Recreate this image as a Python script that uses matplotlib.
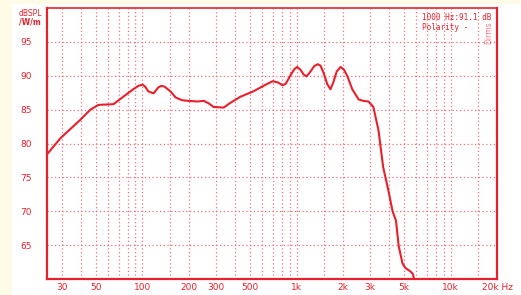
import matplotlib
matplotlib.use("Agg")
import matplotlib.pyplot as plt
from matplotlib.patches import Rectangle

freq = [24, 29.4, 39.5, 45.9, 51.8, 64.8, 74, 87, 94, 100, 104, 109, 118, 127, 133, 139, 146,
        152, 164, 180, 196, 228, 250, 270, 289, 336, 372, 432, 525, 620, 700, 760, 810, 850,
        920, 970, 1010, 1060, 1110, 1160, 1220, 1300, 1370, 1430, 1500, 1580, 1660, 1730,
        1820, 1930, 2030, 2140, 2300, 2530, 2700, 2930, 3150, 3400, 3650, 3950, 4200,
        4420, 4600, 4870, 5100, 5500, 5700, 5780]
spl = [78.4, 80.8, 83.5, 85.0, 85.7, 85.8, 86.8, 88.0, 88.5, 88.7, 88.4, 87.7, 87.4, 88.3,
       88.5, 88.4, 88.0, 87.7, 86.8, 86.4, 86.3, 86.2, 86.3, 85.9, 85.4, 85.3, 86.0, 86.9,
       87.7, 88.6, 89.2, 89.0, 88.6, 88.8, 90.2, 91.0, 91.3, 90.9, 90.2, 89.9, 90.5, 91.4,
       91.7, 91.5, 90.4, 88.8, 88.0, 89.0, 90.6, 91.3, 90.9, 89.9, 88.0, 86.5, 86.3, 86.2,
       85.4, 82.0, 76.5, 73.0, 70.0, 68.6, 64.9, 62.3, 61.6, 61.1, 60.7, 60.0]

xtick_vals = [30, 50, 100, 200, 300, 500, 1000, 2000, 3000, 5000, 10000, 20000]
xtick_labels = ["30", "50", "100", "200", "300", "500", "1k", "2k", "3k", "5k", "10k", "20k Hz"]
ytick_vals = [65, 70, 75, 80, 85, 90, 95]
grid_x = [30, 40, 50, 60, 70, 80, 90, 100, 150, 200, 300, 400, 500, 600, 700, 800, 900,
          1000, 1500, 2000, 3000, 4000, 5000, 6000, 7000, 8000, 9000, 10000, 15000]

RED = "#e8202c"
GRID = "#f0707a"

W, H = 521, 295
fig = plt.figure(figsize=(W / 100, H / 100), dpi=100, facecolor="#fffbe6")
fig.patches.append(Rectangle((12 / W, 0), 1 - 12 / W, 1 - 4 / H, transform=fig.transFigure,
                             facecolor="white", edgecolor="none", zorder=-10))

ax = fig.add_axes([47 / W, 1 - 279 / H, (497 - 47) / W, (279 - 8) / H], zorder=5)
ax.set_facecolor("white")
ax.set_xscale("log")
ax.set_xlim(24, 20000)
ax.set_ylim(60, 100)

for g in grid_x:
    ax.axvline(g, color=GRID, lw=0.9, ls=(0, (1, 2)), zorder=1)
for g in ytick_vals:
    ax.axhline(g, color=GRID, lw=0.9, ls=(0, (1, 2)), zorder=1)

ax.plot(freq, spl, color=RED, lw=1.5, zorder=3, solid_joinstyle="round")

ax.set_xticks(xtick_vals)
ax.set_xticklabels(xtick_labels)
ax.set_xticks([], minor=True)
ax.set_yticks(ytick_vals)
ax.set_yticklabels([str(v) for v in ytick_vals])
ax.tick_params(axis="both", length=0, colors=RED, labelsize=6.5)
ax.tick_params(axis="y", pad=11)
ax.tick_params(axis="x", pad=3)
for lab in ax.get_xticklabels() + ax.get_yticklabels():
    lab.set_color(RED)

for side, s in ax.spines.items():
    s.set_color(RED)
    s.set_linewidth(1.6 if side in ("left", "bottom", "right") else 1.2)

fig.text(30 / W, 1 - 13 / H, "dBSPL", color=RED, fontsize=5.5, ha="center", va="center", zorder=10)
fig.text(30 / W, 1 - 22 / H, "/W/m", color=RED, fontsize=5.5, ha="center", va="center",
         fontweight="bold", zorder=10)
fig.text(422 / W, 1 - 17 / H, "1000 Hz:91.1 dB", color=RED, fontsize=5.5, ha="left",
         va="center", family="DejaVu Sans Mono", zorder=10)
fig.text(422 / W, 1 - 27 / H, "Polarity -", color=RED, fontsize=5.5, ha="left",
         va="center", family="DejaVu Sans Mono", zorder=10)
fig.text(489 / W, 1 - 33 / H, "Dirms", color=RED, fontsize=5.5, ha="center",
         va="center", rotation=90, alpha=0.6, zorder=10)

fig.savefig("out.png", dpi=100, facecolor=fig.get_facecolor())
